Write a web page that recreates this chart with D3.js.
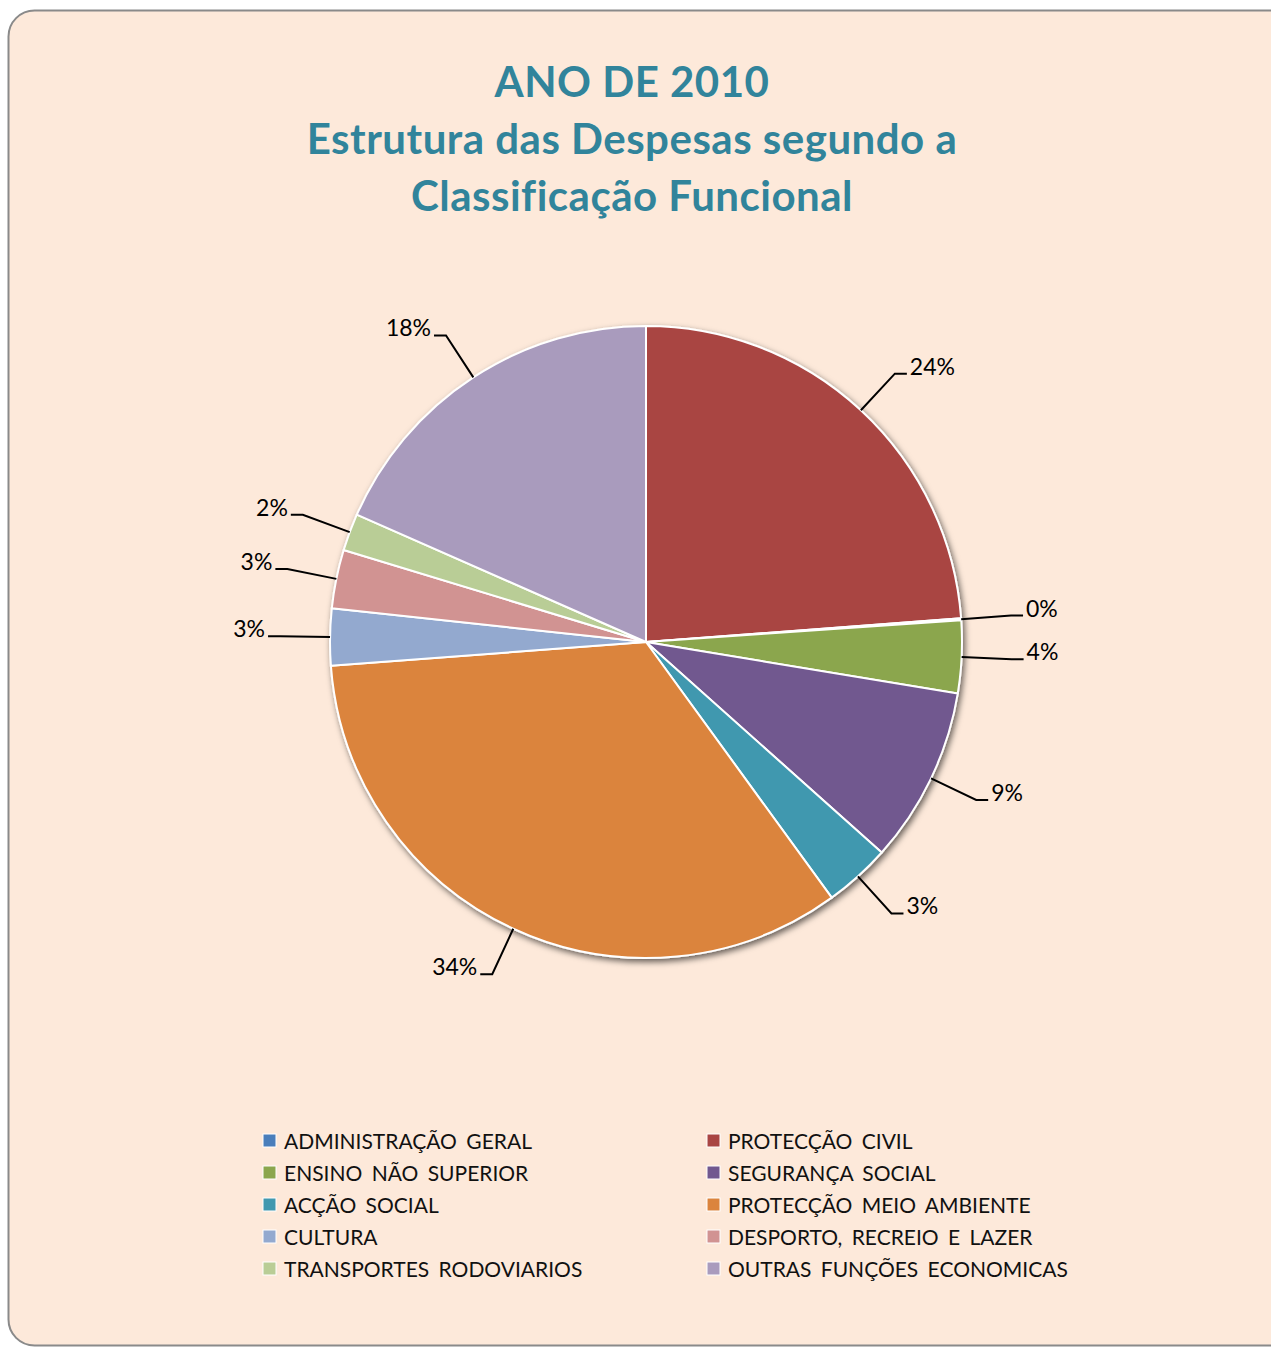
<!DOCTYPE html>
<html><head><meta charset="utf-8">
<script src="https://cdn.jsdelivr.net/npm/d3@7"></script>
<style>body{margin:0;background:#fff;overflow:hidden}</style>
</head><body><svg id="c" width="1271" height="1353"></svg>
<script>
const categories = ["ADMINISTRAÇÃO GERAL","PROTECÇÃO CIVIL","ENSINO NÃO SUPERIOR","SEGURANÇA SOCIAL","ACÇÃO SOCIAL","PROTECÇÃO MEIO AMBIENTE","CULTURA","DESPORTO, RECREIO E LAZER","TRANSPORTES RODOVIARIOS","OUTRAS FUNÇÕES ECONOMICAS"];
const values = [0.1, 23.8, 3.7, 9.0, 3.4, 33.8, 2.9, 3.0, 1.9, 18.4];
const pieOrder = [1, 0, 2, 3, 4, 5, 6, 7, 8, 9];
const colors = ["#4A7EBB","#A94543","#8BA64D","#71588F","#4198AF","#DB843D","#93A9CF","#D19392","#B9CD96","#A99BBD"];
const titleLines = ["ANO DE 2010","Estrutura das Despesas segundo a","Classificação Funcional"];

const svg = d3.select("#c");
const defs = svg.append("defs");
const f = defs.append("filter").attr("id","sh").attr("x","-10%").attr("y","-10%").attr("width","125%").attr("height","125%");
f.append("feDropShadow").attr("dx",2).attr("dy",3).attr("stdDeviation",3).attr("flood-color","#000").attr("flood-opacity",0.6);

svg.append("rect").attr("x",8.5).attr("y",10.5).attr("width",1290).attr("height",1335)
  .attr("rx",26).attr("ry",26).attr("fill","#FDE9DA").attr("stroke","#8A8A8A").attr("stroke-width",2);

// title
const title = svg.append("text").attr("text-anchor","middle")
  .attr("font-family","Lato, 'Open Sans', sans-serif").attr("font-weight","bold")
  .attr("font-size",42).attr("letter-spacing",0.5).attr("fill","#31849B");
const titleY = d3.scaleLinear().domain([0,1]).range([97,154]);
titleLines.forEach((t,i)=> title.append("tspan").attr("x",632).attr("y",titleY(i)).text(t));

// pie
const cx = 646, cy = 642, R = 316;
const total = d3.sum(values);
const pieData = pieOrder.map(i => ({i, v: values[i]}));
const arcs = d3.pie().sort(null).value(d=>d.v)(pieData);
const arc = d3.arc().innerRadius(0).outerRadius(R);
const g = svg.append("g").attr("transform",`translate(${cx},${cy})`);
const slices = g.append("g").attr("filter","url(#sh)");
slices.selectAll("path").data(arcs).join("path")
  .attr("d",arc).attr("fill",d=>colors[d.data.i])
  .attr("stroke","#fff").attr("stroke-width",2).attr("stroke-linejoin","round");

// labels
const lab = g.append("g").attr("font-family","Lato, 'Open Sans', sans-serif").attr("font-size",23).attr("fill","#000");
arcs.forEach(a=>{
  const m = (a.startAngle+a.endAngle)/2;
  const s = Math.sin(m), c = -Math.cos(m);
  const p0 = [R*s, R*c];
  const re = R+50;
  const p1 = [re*s, re*c];
  const side = s >= 0 ? 1 : -1;
  const p2 = [p1[0]+side*12, p1[1]];
  lab.append("path").attr("d",d3.line()([p0,p1,p2])).attr("fill","none").attr("stroke","#000").attr("stroke-width",2);
  lab.append("text").attr("x",p2[0]+side*3).attr("y",p1[1]+1)
    .attr("text-anchor", side>0?"start":"end")
    .text(Math.round(a.data.v/total*100)+"%");
});

// legend
const leg = svg.append("g").attr("font-family","Lato, 'Open Sans', sans-serif").attr("font-size",21).attr("word-spacing",4).attr("fill","#111");
const colX = d3.scalePoint().domain([0,1]).range([263,707]);
const rowY = d3.scaleLinear().domain([0,1]).range([1141,1173]);
categories.forEach((name,i)=>{
  const col = i%2, row = Math.floor(i/2);
  const x = colX(col), y = rowY(row);
  leg.append("rect").attr("x",x).attr("y",y-7).attr("width",13).attr("height",13)
    .attr("fill",colors[i]).attr("stroke","#fff").attr("stroke-width",1);
  leg.append("text").attr("x",x+21).attr("y",y+8).text(name);
});
</script></body></html>
